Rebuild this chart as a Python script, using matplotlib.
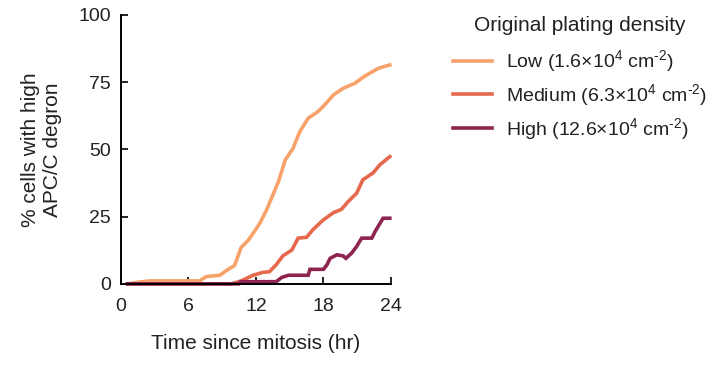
import numpy as np
import matplotlib
matplotlib.use("Agg")
import matplotlib.pyplot as plt

plt.rcParams['font.family'] = ['Liberation Sans', 'DejaVu Sans']
plt.rcParams['mathtext.fontset'] = 'custom'
plt.rcParams['mathtext.rm'] = 'Liberation Sans'
plt.rcParams['mathtext.it'] = 'Liberation Sans'
plt.rcParams['mathtext.default'] = 'regular'

# time (hr) and % cells with high APC/C degron
t_low = [0.6, 1.7, 2.6, 7.0, 7.6, 8.8, 9.4, 10.1, 10.7, 11.3, 11.75, 12.35, 12.95,
         13.5, 14.0, 14.6, 15.3, 15.9, 16.65, 17.5, 18.1, 18.9, 19.75, 20.8, 21.7,
         22.9, 23.9]
v_low = [0, 0.7, 1.1, 1.1, 2.7, 3.2, 5.0, 6.8, 13.6, 16.1, 18.8, 22.5, 27.5,
         33.0, 38.0, 46.0, 50.4, 56.6, 61.6, 64.0, 66.5, 70.3, 72.7, 74.6, 77.3,
         80.2, 81.4]

t_med = [0.6, 9.8, 10.7, 11.75, 12.65, 13.2, 13.8, 14.4, 15.2, 15.75, 16.5, 17.1,
         18.0, 18.9, 19.6, 20.2, 20.95, 21.5, 22.4, 23.0, 23.9]
v_med = [0, 0, 1.1, 3.2, 4.3, 4.5, 7.1, 10.4, 12.6, 17.0, 17.3, 20.3,
         23.8, 26.5, 27.7, 30.6, 33.7, 38.7, 41.2, 44.2, 47.3]

t_high = [0.6, 10.5, 10.65, 13.8, 14.3, 14.9, 16.65, 16.8, 18.0, 18.3, 18.6, 19.2,
          19.75, 20.0, 20.5, 20.95, 21.4, 22.3, 22.6, 23.3, 23.9]
v_high = [0, 0, 0.8, 0.8, 2.4, 3.2, 3.2, 5.4, 5.4, 7.0, 9.5, 10.8,
          10.4, 9.5, 11.4, 13.9, 17.0, 17.0, 19.5, 24.4, 24.4]

labels = [r"Low (1.6×10$^{4}$ cm$^{\text{-2}}$)",
          r"Medium (6.3×10$^{4}$ cm$^{\text{-2}}$)",
          r"High (12.6×10$^{4}$ cm$^{\text{-2}}$)"]
colors = ["#F6A26A", "#E6694E", "#8E2450"]

fig = plt.figure(figsize=(7.28, 3.73), dpi=100)
ax = fig.add_axes([0.166, 0.239, 0.371, 0.721])

for t, v, lab, c in zip([t_low, t_med, t_high], [v_low, v_med, v_high], labels, colors):
    ax.plot(t, v, color=c, lw=2.6, label=lab, solid_joinstyle="miter", clip_on=False)

ax.set_xlim(0, 24)
ax.set_ylim(0, 100)
ax.set_xticks([0, 6, 12, 18, 24])
ax.set_yticks([0, 25, 50, 75, 100])
ax.spines["top"].set_visible(False)
ax.spines["right"].set_visible(False)
for s in ["left", "bottom"]:
    ax.spines[s].set_linewidth(1.4)
ax.tick_params(direction="in", length=5, width=1.4, labelsize=14, pad=7, colors="#222222")
ax.tick_params(axis="x", pad=10)

ax.set_xlabel("Time since mitosis (hr)", fontsize=15, labelpad=14, color="#222222")
ax.set_ylabel("% cells with high\nAPC/C degron", fontsize=15, labelpad=12, color="#222222")

leg = fig.legend(loc="upper left", bbox_to_anchor=(0.598, 1.005), frameon=False,
                 title="Original plating density", fontsize=14, title_fontsize=15,
                 handlelength=2.0, handletextpad=0.75, labelspacing=0.4)
# a little more room between the title and the first entry
leg._legend_box.sep = 10
leg.get_title().set_color("#222222")
for txt in leg.get_texts():
    txt.set_color("#222222")

fig.savefig("out.png", dpi=100)
